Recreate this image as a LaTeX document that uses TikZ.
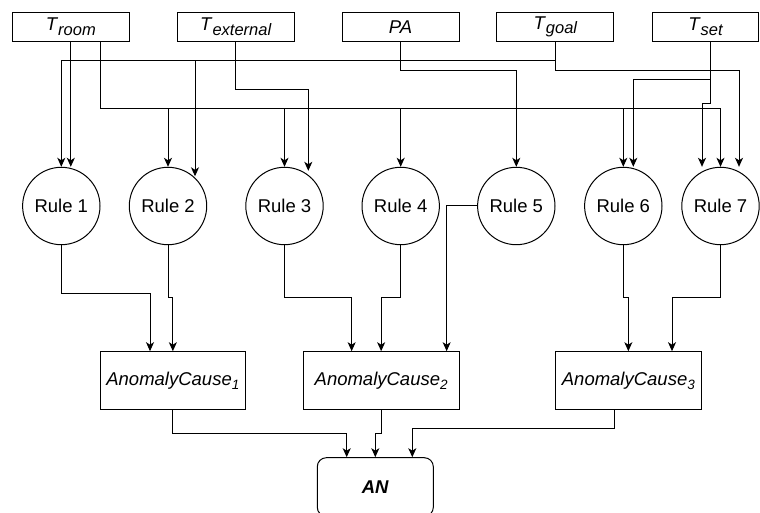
\documentclass[tikz,border=0pt]{standalone}
\usepackage{fontspec}
\setmainfont{Liberation Sans}
\usetikzlibrary{arrows.meta}
\newcommand\topsub[1]{\raisebox{-4.5pt}{\fontsize{16.5}{16.5}\selectfont\itshape #1}}
\newcommand\acsub[1]{\raisebox{-4pt}{\fontsize{13.5}{13.5}\selectfont\itshape #1}}
\begin{document}
\begin{tikzpicture}[x=1pt,y=-1pt,
  every node/.style={font=\fontsize{18.5}{22}\selectfont},
  inbox/.style={draw, line width=1pt, minimum width=117pt, minimum height=29pt, inner sep=0pt},
  rulenode/.style={draw, circle, line width=1pt, minimum size=77.4pt, inner sep=0pt},
  causebox/.style={draw, line width=1pt, minimum height=57.6pt, inner sep=0pt},
  anbox/.style={draw, line width=1pt, rounded corners=9pt, minimum width=116pt, minimum height=58.6pt, inner sep=0pt},
  wire/.style={line width=1pt},
  arr/.style={wire, -{Stealth[length=9pt,width=8pt,inset=2.5pt]}}]
\useasboundingbox (0,0) rectangle (760,513);

% inputs
\node[inbox] (troom) at (70.8,26.8) {\textit{T}\topsub{room}};
\node[inbox] (text)  at (235.7,26.8) {\textit{T}\topsub{external}};
\node[inbox] (pa)    at (400.5,26.8) {\textit{PA}};
\node[inbox] (tgoal) at (555.3,26.8) {\textit{T}\topsub{goal}};
\node[inbox, minimum width=105.6pt] (tset)  at (705.5,26.8) {\textit{T}\topsub{set}};

% rules
\node[rulenode] (r1) at (61.3,206) {Rule 1};
\node[rulenode] (r2) at (168,206) {Rule 2};
\node[rulenode] (r3) at (284.5,206) {Rule 3};
\node[rulenode] (r4) at (400.7,206) {Rule 4};
\node[rulenode] (r5) at (516.3,206) {Rule 5};
\node[rulenode] (r6) at (623.3,206) {Rule 6};
\node[rulenode] (r7) at (720.5,206) {Rule 7};

% causes
\node[causebox, minimum width=145.7pt] (ac1) at (172.85,380.5) {\textit{AnomalyCause}\acsub{1}};
\node[causebox, minimum width=155.7pt] (ac2) at (381.15,380.5) {\textit{AnomalyCause}\acsub{2}};
\node[causebox, minimum width=145.3pt] (ac3) at (628.35,380.5) {\textit{AnomalyCause}\acsub{3}};

% result
\node[anbox] (an) at (375.3,487) {\textbf{\textit{AN}}};

% routing levels
\coordinate (lvA) at (0,60.7);
\coordinate (lvB) at (0,70.3);
\coordinate (lvC) at (0,80);
\coordinate (lvD) at (0,89.3);
\coordinate (lvE) at (0,104);
\coordinate (lvF) at (0,109);
\coordinate (lvG) at (0,293.3);
\coordinate (lvH) at (0,297.5);
\coordinate (lvI) at (0,433.7);
\coordinate (lvJ) at (0,428.7);

% T_room
\draw[arr] (troom.south) -- (troom.south |- r1.north);
\draw[wire] ([xshift=29.2pt]troom.south) |- (r7.north |- lvF);
\foreach \r in {r2,r3,r4,r6,r7} \draw[arr] (\r.north |- lvF) -- (\r.north);

% T_goal
\draw[arr] (tgoal.south) |- (r1.north |- lvA) -- (r1.north);
\coordinate (r2b) at ([xshift=27pt,yshift=-9.5pt]r2.north);
\draw[arr] (r2b |- lvA) -- (r2b);
\coordinate (r7c) at ([xshift=18.5pt]r7.north);
\draw[arr] (tgoal.south) |- (r7c |- lvB) -- (r7c);

% PA
\draw[arr] (pa.south) |- (r5.north |- lvB) -- (r5.north);

% T_external
\coordinate (r3b) at ([xshift=23.8pt,yshift=-4pt]r3.north);
\draw[arr] (text.south) |- (r3b |- lvD) -- (r3b);

% T_set
\coordinate (tsx) at ([xshift=5.2pt]tset.south);
\coordinate (r6b) at ([xshift=10pt]r6.north);
\draw[arr] (tsx) |- (r6b |- lvC) -- (r6b);
\coordinate (r7a) at ([xshift=-18.5pt]r7.north);
\draw[arr] (tsx) -- (tsx |- lvE) -| (r7a);

% rules -> causes
\coordinate (a1a) at ([xshift=-22.85pt]ac1.north);
\draw[arr] (r1.south) -- (r1.south |- lvG) -| (a1a);
\draw[arr] (r2.south) -- (r2.south |- lvH) -| (ac1.north);
\coordinate (a2a) at ([xshift=-29.5pt]ac2.north);
\draw[arr] (r3.south) -- (r3.south |- lvH) -| (a2a);
\draw[arr] (r4.south) -- (r4.south |- lvH) -| (ac2.north);
\coordinate (a2c) at ([xshift=65.5pt]ac2.north);
\draw[arr] (r5.west) -| (a2c);
\draw[arr] (r6.south) -- (r6.south |- lvH) -| (ac3.north);
\coordinate (a3c) at ([xshift=43.65pt]ac3.north);
\draw[arr] (r7.south) -- (r7.south |- lvH) -| (a3c);

% causes -> AN
\coordinate (ana) at ([xshift=-28.6pt]an.north);
\draw[arr] (ac1.south) -- (ac1.south |- lvI) -| (ana);
\draw[arr] (ac2.south) -- (ac2.south |- lvI) -| (an.north);
\coordinate (a3s) at ([xshift=-14.35pt]ac3.south);
\coordinate (anc) at ([xshift=37pt]an.north);
\draw[arr] (a3s) -- (a3s |- lvJ) -| (anc);
\end{tikzpicture}
\end{document}
